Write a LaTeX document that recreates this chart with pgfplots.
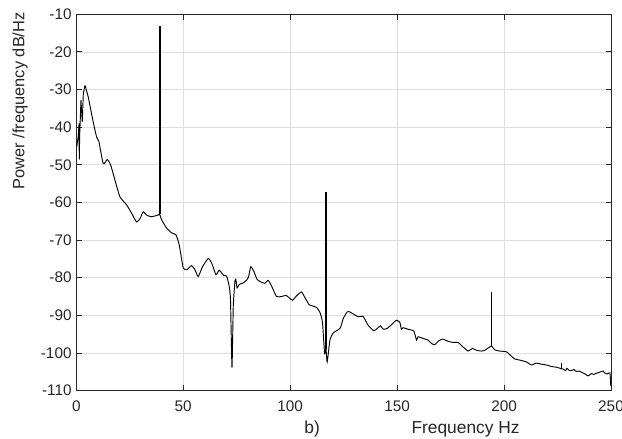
\documentclass[border=0pt]{standalone}
\usepackage{fontspec}
\setmainfont{Liberation Sans}
\usepackage{pgfplots}
\pgfplotsset{compat=1.18}
\definecolor{axgray}{gray}{0.15}
\definecolor{gridgray}{gray}{0.87}
\begin{document}
\begin{tikzpicture}
\useasboundingbox (-57.2pt,-35.6pt) rectangle (409.25pt,292.9pt);
\begin{axis}[at={(0,0)}, anchor=south west, scale only axis,
  width=401pt, height=282.2pt,
  xmin=0, xmax=250, ymin=-110, ymax=-10,
  xtick={0,50,...,250}, ytick={-110,-100,...,-10},
  grid=major, major grid style={gridgray, line width=0.5pt},
  axis line style={axgray, line width=0.6pt},
  tick style={axgray, line width=0.6pt},
  tick align=inside, major tick length=4pt,
  tick label style={font=\fontsize{11.5}{13}\selectfont, text=axgray},
  xticklabel style={yshift=-4.25pt},
  /pgf/number format/assume math mode=true,
  /pgf/number format/1000 sep={},
  xlabel={Frequency Hz},
  xlabel style={at={(axis description cs:0.728,-0.103)}, anchor=center, font=\fontsize{13}{15}\selectfont, text=axgray},
  ylabel={Power /frequency dB/Hz},
  ylabel style={at={(axis description cs:-0.105,0.77)}, anchor=center, font=\fontsize{12.3}{14}\selectfont, text=axgray},
  extra description/.code={\node[font=\fontsize{13}{15}\selectfont, text=axgray, anchor=center] at (0.441,-0.103) {b)};},
]
% lowest frequencies
\addplot[black, line width=0.7pt] coordinates {
(0.2,-45.3) (0.9,-42.6) (1.3,-39) (1.4,-48.6) (1.6,-42) (2.2,-32.8) (2.8,-38.6) (3.3,-31) (4.1,-28.9)
};
% smooth spectrum
\addplot[black, line width=0.7pt, smooth, tension=0.3] coordinates {
(4.1,-28.9) (5.6,-32) (7.9,-38.6) (9.5,-42.6) (10.6,-43.9) (12.6,-49.7) (14.5,-48.6)
(16.1,-50.1) (18.1,-54.1) (20.4,-58.5) (23.6,-60.7) (25.9,-62.9) (28.2,-65.2) (29.8,-64.3)
(31.3,-62.5) (32.9,-63.4) (35.2,-63.8) (38.0,-63.4) (39.0,-63.2)
(39.9,-64.6) (42.2,-66.8) (44.6,-68.1) (46.6,-68.6) (48.1,-71.2) (50,-77.4) (51.6,-77.9)
(53.9,-76.8) (55.5,-77.9) (57,-79.7) (59.1,-77.0) (61.7,-74.9) (63.3,-76.1) (65.3,-79.2)
(66.8,-78.0) (67.9,-78.7) (69,-79.4) (70.3,-79.6) (71.5,-82.3) (72.1,-85.8) (72.8,-103.9)
(73.4,-87.6) (74.2,-80.9) (74.6,-80.5) (75.2,-82.7) (76.2,-81.8) (78,-81.4) (79.9,-80.5)
(80.6,-79.6) (81.6,-77.1) (83,-78.3) (84.6,-80.5) (86.6,-81.2) (88.2,-81.5) (89.7,-80.7)
(91.3,-82.2) (93.6,-85) (96,-85) (98,-84.7) (99.5,-85.3) (101.1,-86) (103,-84.8)
(105.3,-83.8) (106.9,-85.3) (108.9,-87.2) (110.5,-87.5) (112.3,-87.9) (113.9,-89.2)
(115.1,-91.8) (116.1,-100.2) (116.7,-98.5) (117.3,-102.4)
(118.6,-96.6) (120.1,-94.7) (122,-94) (123.5,-93.3) (124.8,-90.9) (126.6,-89.1)
(127.5,-89.0) (129.4,-89.6) (131.8,-90.4) (134.1,-90.3) (136.4,-92.6) (139.1,-94.1)
(140.7,-93.5) (142.2,-92.8) (143.5,-93.7) (145.3,-93.5) (147.4,-92.5) (149.7,-91.3)
(151.3,-91.9) (152,-93.7) (152.8,-93.3) (155.1,-93.7) (157.8,-94.2) (159.1,-96.6)
(159.8,-95.7) (161.4,-96) (164.5,-96.6) (166.1,-97.5) (167.6,-97.8) (169.2,-96.9)
(171.2,-96.3) (173.8,-96.9) (176.2,-97.2) (178.5,-97.2) (180.8,-98.4) (183.2,-99.5)
(185.2,-98.8) (187.1,-99.3) (189.4,-99.5) (191,-99.3) (192.5,-98.7) (194.2,-98.2)
(195.7,-99.2) (198,-99.5) (201.1,-99.7) (203.5,-100.9)
(205,-101.6) (208.1,-102) (210.5,-102.4) (212.8,-103.2) (215.1,-102.7) (217.5,-103)
(219.8,-103.2) (222.1,-103.6) (224.5,-103.8) (226.9,-104.2) 
(227.6,-104.3) (228.8,-104.7) (229.4,-104.1) (230.4,-104.6) (231.5,-104.7) (232.6,-104.4) (233.8,-104.9) (235,-104.8) (236.2,-105.1)
(238.2,-105.7) (239.3,-106.1) (240.8,-105.5) (242,-105.7) (243.2,-105.4) (244.7,-105.1) (246.3,-104.8)
(247,-105.3) (248.1,-105.6) (249.5,-105.3) (249.9,-108.8)
};
% narrow spectral lines
\addplot[black, line width=1.4pt] coordinates {(39.0,-63.2) (39.0,-13)};
\addplot[black, line width=1.4pt] coordinates {(116.8,-99) (116.8,-57.3)};
\addplot[black, line width=1.2pt] coordinates {(194.2,-98.3) (194.2,-83.9)};
\addplot[black, line width=0.6pt] coordinates {(226.9,-104.4) (226.9,-102.7)};
\end{axis}
\end{tikzpicture}
\end{document}
